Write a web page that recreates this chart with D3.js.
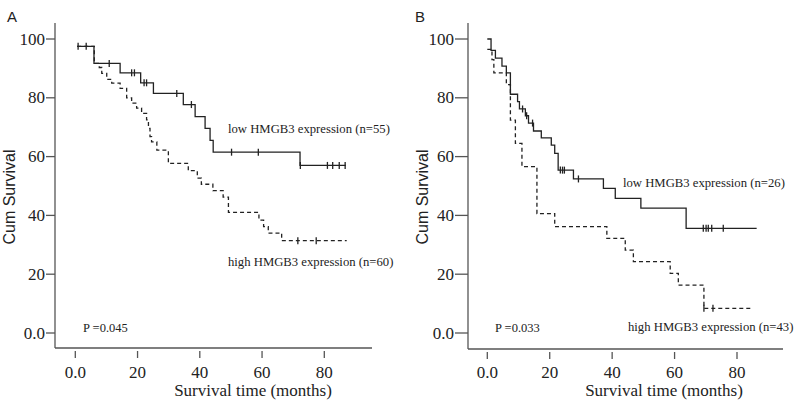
<!doctype html>
<html lang="en">
<head>
<meta charset="UTF-8">
<title>Kaplan-Meier HMGB3</title>
<script src="https://d3js.org/d3.v7.min.js"></script>
<style>
  body { margin: 0; background: #fff; }
  text { fill: #222; }
</style>
</head>
<body>
<div id="chart-area"></div>
<script>

// ---- data ----
const yTicks = [0, 20, 40, 60, 80, 100];
const yTickLabels = ['0.0', '20', '40', '60', '80', '100'];
const xTicks = [0, 20, 40, 60, 80];
const xTickLabels = ['0.0', '20', '40', '60', '80'];

// panel A
const aLowTime = [0.6, 6.0, 14.4, 21.0, 25.1, 34.7, 38.5, 41.7, 43.3, 44.3, 72.2, 86.9];
const aLowSurv = [97.5, 91.7, 88.5, 85.1, 81.5, 77.7, 73.6, 69.6, 65.5, 61.5, 57.0, 57.0];
const aLowCens = [0.9, 3.5, 10.9, 18.1, 19.0, 22.1, 22.9, 32.6, 37.3, 50.2, 58.8, 72.3, 81.0, 82.7, 84.8, 86.7];
const aHighTime = [0.6, 6.1, 7.7, 8.5, 10.1, 11.7, 14.4, 16.5, 18.1, 19.7, 21.3, 22.9, 23.5, 24.0, 24.5,
                   26.2, 29.9, 36.3, 39.2, 40.5, 44.2, 47.5, 49.2, 59.0, 60.5, 62.0, 66.3, 87.2];
const aHighSurv = [97.5, 91.7, 90.3, 88.3, 86.3, 85.0, 83.2, 80.0, 78.2, 76.5, 74.7, 72.5, 69.6, 66.8, 65.0,
                   62.2, 57.7, 55.2, 52.7, 50.6, 48.4, 46.2, 41.0, 38.4, 36.2, 34.0, 31.4, 31.4];
const aHighCens = [71.5, 77.4];

// panel B
const bLowTime = [0, 1.2, 2.6, 4.7, 6.1, 7.4, 9.7, 10.3, 12.2, 13.2, 14.8, 17.3, 20.5, 21.6, 22.7,
                  27.6, 37.2, 41.0, 49.2, 63.7, 86.3];
const bLowSurv = [100, 96.1, 93.5, 90.8, 88.5, 81.2, 78.7, 76.2, 73.9, 71.4, 68.7, 66.4, 63.9, 61.1, 55.4,
                  52.4, 49.2, 45.8, 42.5, 35.6, 35.6];
const bLowCens = [11.3, 12.6, 14.5, 23.4, 24.1, 24.7, 29.2, 69.2, 70.1, 70.8, 71.9, 75.6];
const bHighTime = [0, 1.5, 2.1, 6.1, 7.4, 9.0, 11.1, 15.9, 21.6, 38.3, 44.2, 46.8, 58.6, 61.2, 69.4, 85.0];
const bHighSurv = [96.5, 93.0, 88.5, 84.5, 72.4, 64.5, 56.6, 40.6, 36.2, 32.2, 28.2, 24.3, 20.3, 16.3, 8.4, 8.4];
const bHighCens = [69.4, 72.3];

const W = 800, H = 403;

const svg = d3.select('#chart-area')
    .append('svg')
    .attr('width', W)
    .attr('height', H);

function survAt(times, surv, t) {
    let s = surv[0];
    for (let i = 0; i < times.length; i++) if (times[i] <= t) s = surv[i];
    return s;
}

function panel(p) {
    const g = svg.append('g');

    const x = d3.scaleLinear().domain([0, 80]).range([p.x0, p.x80]);
    const y = d3.scaleLinear().domain([0, 100]).range([333, 39]);

    // axis lines
    g.append('line')
        .attr('x1', p.axisX).attr('x2', p.axisX)
        .attr('y1', 23).attr('y2', p.baseY)
        .attr('stroke', '#555').attr('stroke-width', 1.3);
    g.append('line')
        .attr('x1', p.axisX).attr('x2', p.axisEnd)
        .attr('y1', p.baseY).attr('y2', p.baseY)
        .attr('stroke', '#555').attr('stroke-width', 1.3);

    // y ticks
    g.selectAll('.yt').data(yTicks).enter().append('line')
        .attr('x1', p.axisX - p.tickLen).attr('x2', p.axisX)
        .attr('y1', d => y(d)).attr('y2', d => y(d))
        .attr('stroke', '#555').attr('stroke-width', 1.3);
    g.selectAll('.yl').data(yTicks).enter().append('text')
        .attr('x', p.axisX - p.tickLen - 1)
        .attr('y', d => y(d) + 5.5)
        .attr('text-anchor', 'end')
        .style('font', '17px "Liberation Serif", serif')
        .text((d, i) => yTickLabels[i]);

    // x ticks (detached below the axis)
    g.selectAll('.xt').data(xTicks).enter().append('line')
        .attr('x1', d => x(d)).attr('x2', d => x(d))
        .attr('y1', p.baseY + 3).attr('y2', p.baseY + 10)
        .attr('stroke', '#555').attr('stroke-width', 1.3);
    g.selectAll('.xl').data(xTicks).enter().append('text')
        .attr('x', d => x(d))
        .attr('y', 378)
        .attr('text-anchor', 'middle')
        .style('font', '17px "Liberation Serif", serif')
        .text((d, i) => xTickLabels[i]);

    const line = d3.line()
        .x(d => x(d[0]))
        .y(d => y(d[1]))
        .curve(d3.curveStepAfter);

    function curve(times, surv, cens, dashed) {
        g.append('path')
            .attr('d', line(times.map((t, i) => [t, surv[i]])))
            .attr('fill', 'none')
            .attr('stroke', '#222')
            .attr('stroke-width', 1.3)
            .attr('stroke-dasharray', dashed ? '4,3' : null);
        g.selectAll(null).data(cens).enter().append('line')
            .attr('x1', d => x(d)).attr('x2', d => x(d))
            .attr('y1', d => y(survAt(times, surv, d)) - 3.5)
            .attr('y2', d => y(survAt(times, surv, d)) + 3.5)
            .attr('stroke', '#222').attr('stroke-width', 1.3);
    }

    curve(p.highTime, p.highSurv, p.highCens, true);
    curve(p.lowTime, p.lowSurv, p.lowCens, false);

    // labels
    g.append('text')
        .attr('x', p.lowLab[0]).attr('y', p.lowLab[1])
        .style('font', '12.7px "Liberation Serif", serif')
        .text(p.lowText);
    g.append('text')
        .attr('x', p.highLab[0]).attr('y', p.highLab[1])
        .style('font', '12.7px "Liberation Serif", serif')
        .text(p.highText);
    g.append('text')
        .attr('x', p.pLab[0]).attr('y', p.pLab[1])
        .style('font', '12.5px "Liberation Serif", serif')
        .text(p.pText);

    g.append('text')
        .attr('x', p.titleCx).attr('y', 396)
        .attr('text-anchor', 'middle')
        .style('font', '17px "Liberation Serif", serif')
        .text('Survival time (months)');

    g.append('text')
        .attr('transform', `translate(${p.titleX},197) rotate(-90)`)
        .attr('text-anchor', 'middle')
        .style('font', '16px "Liberation Sans", Arial, sans-serif')
        .text('Cum Survival');

    g.append('text')
        .attr('x', p.letter[0]).attr('y', p.letter[1])
        .style('font', '15px "Liberation Sans", Arial, sans-serif')
        .text(p.letterText);
}

panel({
    x0: 75.3, x80: 324.3, axisX: 55, axisEnd: 372, baseY: 348, tickLen: 9,
    lowTime: aLowTime, lowSurv: aLowSurv, lowCens: aLowCens,
    highTime: aHighTime, highSurv: aHighSurv, highCens: aHighCens,
    lowText: 'low HMGB3 expression (n=55)', lowLab: [228, 133],
    highText: 'high HMGB3 expression (n=60)', highLab: [228, 266],
    pText: 'P =0.045', pLab: [83, 332],
    titleCx: 253, titleX: 15, letter: [7, 22], letterText: 'A'
});

panel({
    x0: 487.3, x80: 737, axisX: 468, axisEnd: 783, baseY: 349, tickLen: 13,
    lowTime: bLowTime, lowSurv: bLowSurv, lowCens: bLowCens,
    highTime: bHighTime, highSurv: bHighSurv, highCens: bHighCens,
    lowText: 'low HMGB3 expression (n=26)', lowLab: [623, 187],
    highText: 'high HMGB3 expression (n=43)', highLab: [628, 331],
    pText: 'P =0.033', pLab: [495, 332],
    titleCx: 664, titleX: 428, letter: [415, 22], letterText: 'B'
});

</script>
</body>
</html>
